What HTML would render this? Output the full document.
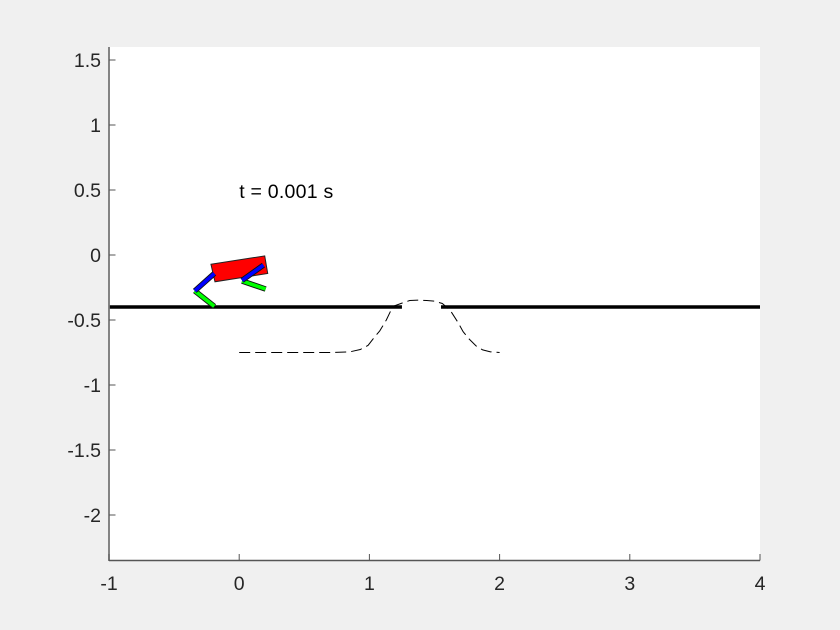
<!DOCTYPE html>
<html>
<head>
<meta charset="utf-8">
<title>Robot simulation frame</title>
<style>
html,body{margin:0;padding:0;background:#f0f0f0;width:840px;height:630px;overflow:hidden}
svg{display:block}
text{font-family:"Liberation Sans",sans-serif}
</style>
</head>
<body>
<svg id="chart" xmlns="http://www.w3.org/2000/svg" width="840" height="630" viewBox="0 0 840 630"></svg>
<script>
const xTicks = [-1, 0, 1, 2, 3, 4];
const yTicks = [1.5, 1, 0.5, 0, -0.5, -1, -1.5, -2];
const xLabels = ['-1', '0', '1', '2', '3', '4'];
const yLabels = ['1.5', '1', '0.5', '0', '-0.5', '-1', '-1.5', '-2'];
const xDomain = [-1, 4];
const yDomain = [-2.35, 1.6];
const pathX = [0, 0.5, 0.7, 0.85, 0.93, 0.99, 1.04, 1.08, 1.13, 1.18, 1.25, 1.31, 1.38, 1.44, 1.5, 1.56, 1.62, 1.68, 1.72, 1.76, 1.82, 1.87, 1.93, 2];
const pathY = [-0.75, -0.75, -0.75, -0.745, -0.727, -0.695, -0.63, -0.583, -0.5, -0.395, -0.37, -0.35, -0.347, -0.35, -0.355, -0.373, -0.424, -0.518, -0.59, -0.64, -0.70, -0.73, -0.745, -0.75];
const groundLeftX = [-1, 1.25];
const groundRightX = [1.55, 4];
const groundY = [-0.4, -0.4];
const bodyX = [-0.217, 0.196, 0.219, -0.186];
const bodyY = [-0.071, -0.007, -0.142, -0.206];
const rearThighX = [-0.191, -0.341];
const rearThighY = [-0.142, -0.276];
const rearShinX = [-0.341, -0.191];
const rearShinY = [-0.276, -0.395];
const frontThighX = [0.186, 0.022];
const frontThighY = [-0.078, -0.195];
const frontShinX = [0.022, 0.203];
const frontShinY = [-0.2, -0.262];
const timeLabel = 't = 0.001 s';
const timeLabelX = 0;
const timeLabelY = 0.44;

const NS = 'http://www.w3.org/2000/svg';
const svg = document.getElementById('chart');
const plot = {left: 109, right: 760, top: 47, bottom: 560.5};
function sx(v){ return plot.left + (v - xDomain[0]) / (xDomain[1] - xDomain[0]) * (plot.right - plot.left); }
function sy(v){ return plot.bottom - (v - yDomain[0]) / (yDomain[1] - yDomain[0]) * (plot.bottom - plot.top); }
function make(tag, attrs){
  const el = document.createElementNS(NS, tag);
  Object.keys(attrs).forEach(function(k){ el.setAttribute(k, attrs[k]); });
  svg.appendChild(el);
  return el;
}
function pts(xs, ys){ return xs.map(function(x, i){ return sx(x).toFixed(2) + ',' + sy(ys[i]).toFixed(2); }).join(' '); }

const bg = make('rect', {x: plot.left, y: plot.top, width: plot.right - plot.left, height: plot.bottom - plot.top, fill: '#ffffff'});



const dash = make('polyline', {points: pts(pathX, pathY), fill: 'none', stroke: '#000', 'stroke-width': 1, 'stroke-dasharray': '11 5'});



const gl = make('polyline', {points: pts(groundLeftX, groundY), fill: 'none', stroke: '#000', 'stroke-width': 3.4});


const gr = make('polyline', {points: pts(groundRightX, groundY), fill: 'none', stroke: '#000', 'stroke-width': 3.4});



const body = make('polygon', {points: pts(bodyX, bodyY), fill: '#ff0000', stroke: '#222', 'stroke-width': 1});



function limb(xs, ys, color, name){
  const g = document.createElementNS(NS, 'g');
  svg.appendChild(g);
  
  
  const o = make('polyline', {points: pts(xs, ys), fill: 'none', stroke: '#111', 'stroke-width': 5.5});
  const c = make('polyline', {points: pts(xs, ys), fill: 'none', stroke: color, 'stroke-width': 3.7});
  g.appendChild(o);
  g.appendChild(c);
}
limb(rearShinX, rearShinY, '#00ff00', 'rear-shin');
limb(frontShinX, frontShinY, '#00ff00', 'front-shin');
limb(rearThighX, rearThighY, '#0000ff', 'rear-thigh');
limb(frontThighX, frontThighY, '#0000ff', 'front-thigh');

const tl = make('text', {x: sx(timeLabelX), y: sy(timeLabelY), 'font-size': 19.5, fill: '#000', textLength: 94, lengthAdjust: 'spacing'});
tl.textContent = timeLabel;



const yAxis = make('line', {x1: plot.left, y1: plot.top, x2: plot.left, y2: plot.bottom + 0.5, stroke: '#777', 'stroke-width': 1.8});


const xAxis = make('line', {x1: plot.left, y1: plot.bottom, x2: plot.right, y2: plot.bottom, stroke: '#555', 'stroke-width': 1.4});



xTicks.forEach(function(v, i){
  const t = make('line', {x1: sx(v), y1: plot.bottom, x2: sx(v), y2: plot.bottom - 6.5, stroke: '#555', 'stroke-width': 1});
  
  
  const l = make('text', {x: sx(v), y: plot.bottom + 29.5, 'font-size': 19.5, fill: '#262626', 'text-anchor': 'middle'});
  l.textContent = xLabels[i];
  
  
});
yTicks.forEach(function(v, i){
  const t = make('line', {x1: plot.left, y1: sy(v), x2: plot.left + 6.5, y2: sy(v), stroke: '#555', 'stroke-width': 1});
  
  
  const l = make('text', {x: plot.left - 8, y: sy(v) + 7, 'font-size': 19.5, fill: '#262626', 'text-anchor': 'end'});
  l.textContent = yLabels[i];
  
  
});
</script>
</body>
</html>
